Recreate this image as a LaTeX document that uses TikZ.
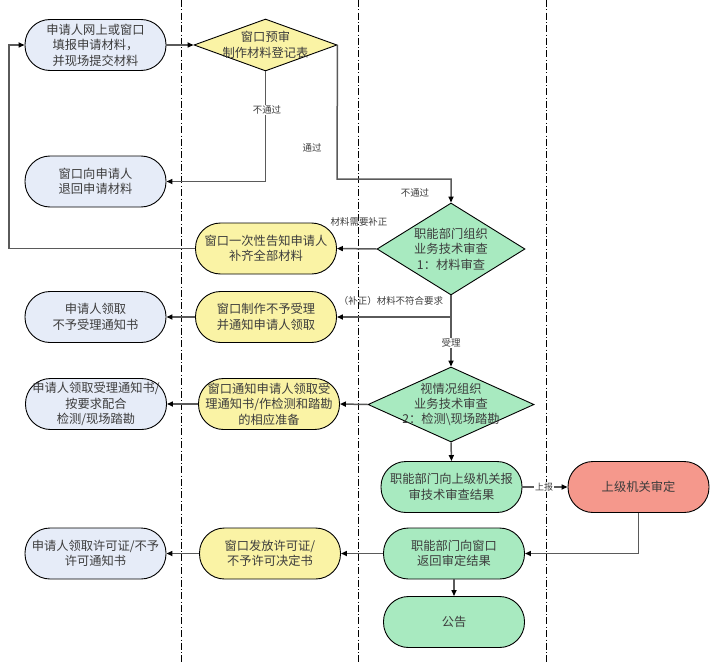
\documentclass[tikz,border=0pt]{standalone}
\usepackage{fontspec}
\setmainfont{Noto Sans CJK SC}
\usetikzlibrary{shapes.geometric,arrows.meta}
\definecolor{cblue}{RGB}{230,236,248}
\definecolor{cyellow}{RGB}{250,243,165}
\definecolor{cgreen}{RGB}{168,234,192}
\definecolor{cred}{RGB}{245,152,140}
\definecolor{ctext}{RGB}{60,60,60}
\definecolor{cline}{RGB}{90,90,90}
\tikzset{
  stad/.style={draw=black, line width=0.9bp, rectangle, rounded corners=25bp,
    minimum width=141bp, minimum height=51bp, inner sep=0pt, align=center,
    text=ctext, font=\fontsize{12.3}{15.5}\selectfont},
  bluebox/.style={stad, fill=cblue},
  yelbox/.style={stad, fill=cyellow},
  grnbox/.style={stad, fill=cgreen},
  redbox/.style={stad, fill=cred},
  dia/.style={draw=black, line width=0.9bp, diamond, inner sep=0pt},
  dtext/.style={align=center, inner sep=0pt, text=ctext, font=\fontsize{12.3}{15.5}\selectfont},
  lbl/.style={inner sep=1pt, text=ctext, font=\fontsize{9.5}{11}\selectfont},
  conn/.style={draw=cline, line width=1.5bp, -{Triangle[length=6bp,width=5bp,fill=black,color=black]}},
  plain/.style={draw=cline, line width=1.5bp},
  lane/.style={draw=black, line width=0.8bp, dash pattern=on 7bp off 2.5bp on 0.6bp off 2.5bp}
}
\begin{document}
\begin{tikzpicture}[x=1bp,y=-1bp]
\useasboundingbox (0,0) rectangle (713,670);
% swimlane separators
\coordinate (l1t) at (181,0); \coordinate (l1b) at (181,663);
\coordinate (l2t) at (358,0); \coordinate (l2b) at (358,663);
\coordinate (l3t) at (546,0); \coordinate (l3b) at (546,663);
\draw[lane] (l1t) -- (l1b);
\draw[lane] (l2t) -- (l2b);
\draw[lane] (l3t) -- (l3b);

% column 1 (blue)
\node[bluebox] (a1) at (95.5,45) {申请人网上或窗口\\填报申请材料，\\并现场提交材料};
\node[bluebox] (a2) at (95.5,181.5) {窗口向申请人\\退回申请材料};
\node[bluebox] (b3) at (95.5,317) {申请人领取\\不予受理通知书};
\node[bluebox] (b4) at (96,404) {申请人领取受理通知书/\\按要求配合\\检测/现场踏勘};
\node[bluebox] (b5) at (95.5,553.5) {申请人领取许可证/不予\\许可通知书};

% column 2 (yellow)
\node[dia, fill=cyellow, minimum width=143bp, minimum height=52bp] (d1) at (265.5,45) {};
\node[dtext] (d1t) at (265.5,45) {窗口预审\\制作材料登记表};
\node[yelbox] (y1) at (266,248.5) {窗口一次性告知申请人\\补齐全部材料};
\node[yelbox] (y2) at (266,317) {窗口制作不予受理\\并通知申请人领取};
\node[yelbox] (y3) at (269,404) {窗口通知申请人领取受\\理通知书/作检测和踏勘\\的相应准备};
\node[yelbox] (y4) at (270,553.5) {窗口发放许可证/\\不予许可决定书};

% column 3 (green)
\node[dia, fill=cgreen, minimum width=148bp, minimum height=92bp] (d2) at (451,249) {};
\node[dtext] (d2t) at (451,249) {职能部门组织\\业务技术审查\\1：材料审查};
\node[dia, fill=cgreen, minimum width=166bp, minimum height=75bp] (d3) at (451,404.5) {};
\node[dtext] (d3t) at (451,404.5) {视情况组织\\业务技术审查\\2：检测\textbackslash 现场踏勘};
\node[grnbox] (g1) at (451.5,487) {职能部门向上级机关报\\审技术审查结果};
\node[grnbox] (g2) at (454,553.5) {职能部门向窗口\\返回审定结果};
\node[grnbox] (g3) at (454,622) {公告};

% column 4 (red)
\node[redbox] (r) at (638.5,487) {上级机关审定};

% connectors
\draw[conn] (a1.east) -- (d1.west);
\coordinate (c1) at (265.5,181.5);
\draw[conn] (d1.south) -- (c1) -- (a2.east);
\node[lbl, fill=white] (t1) at (267,110) {不通过};
\coordinate (c2) at (337,179);
\coordinate (c3) at (451,179);
\draw[conn] (d1.east) -- (c2) -- (c3) -- (d2.north);
\node[lbl] (t2) at (312,148) {通过};
\node[lbl] (t3) at (415,193) {不通过};
\draw[conn] (d2.west) -- (y1.east);
\node[lbl] (t4) at (359,222) {材料需要补正};
\coordinate (c4) at (9,248.5);
\coordinate (c5) at (9,45);
\draw[conn] (y1.west) -- (c4) -- (c5) -- (a1.west);
\coordinate (c6) at (451,317);
\draw[conn] (d2.south) -- (c6) -- (y2.east);
\node[lbl] (t5) at (391,301) {（补正）材料不符合要求};
\draw[conn] (c6) -- (d3.north);
\node[lbl, fill=white] (t6) at (451,343) {受理};
\draw[conn] (y2.west) -- (b3.east);
\draw[conn] (d3.west) -- (y3.east);
\draw[conn] (y3.west) -- (b4.east);
\draw[conn] (d3.south) -- (g1.north);
\draw[conn] (g1.east) -- (r.west);
\node[lbl, fill=white, font=\fontsize{9}{10}\selectfont] (t7) at (544,487) {上报};
\coordinate (c7) at (638.5,553.5);
\draw[conn] (r.south) -- (c7) -- (g2.east);
\draw[conn] (g2.west) -- (y4.east);
\draw[conn] (y4.west) -- (b5.east);
\draw[conn] (g2.south) -- (g3.north);
\end{tikzpicture}
\end{document}
